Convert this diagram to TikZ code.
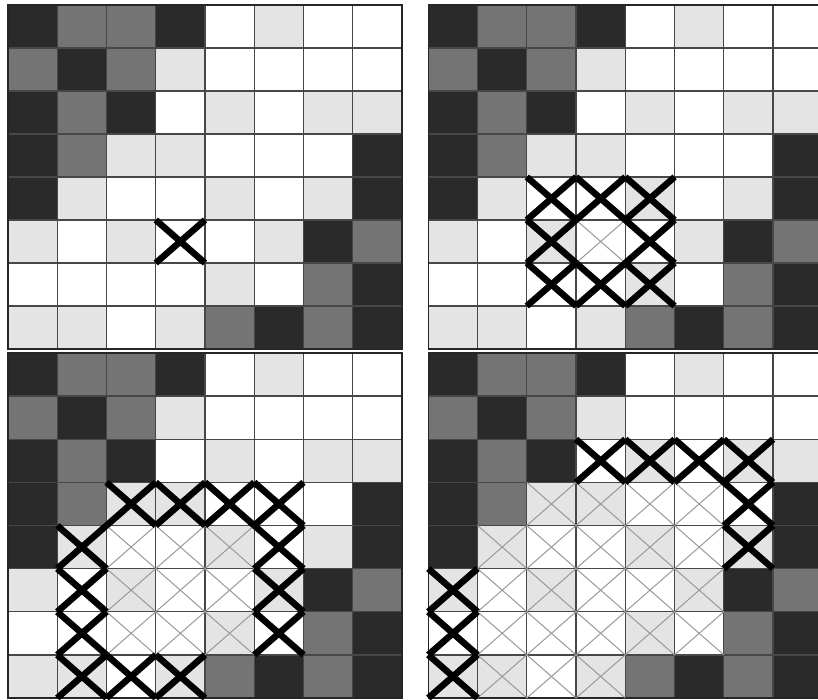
\documentclass[tikz,border=0pt]{standalone}
\definecolor{cD}{HTML}{2A2A2A}
\definecolor{cM}{HTML}{747474}
\definecolor{cL}{HTML}{E4E4E4}
\definecolor{cW}{HTML}{FFFFFF}
\tikzset{
  gridline/.style={draw=black!72, line width=1.3pt},
  frameline/.style={draw=black!85, line width=1.6pt},
  thinx/.style={draw=black!40, line width=1pt},
  thickx/.style={draw=black, line width=6.5pt, line cap=butt},
}
\def\cw{49.25}
\newcommand\basegrid{%
  \foreach \rowlist [count=\r from 0] in {%
    {D,M,M,D,W,L,W,W},%
    {M,D,M,L,W,W,W,W},%
    {D,M,D,W,L,W,L,L},%
    {D,M,L,L,W,W,W,D},%
    {D,L,W,W,L,W,L,D},%
    {L,W,L,W,W,L,D,M},%
    {W,W,W,W,L,W,M,D},%
    {L,L,W,L,M,D,M,D}}{%
    \foreach \cc [count=\k from 0] in \rowlist {%
      \fill[fill=c\cc] (\k*\cw,\r*\ch) rectangle ++(\cw,\ch);
    }
  }
  \foreach \i in {1,...,7} {%
    \draw[gridline] (\i*\cw,0) -- (\i*\cw,8*\ch);
    \draw[gridline] (0,\i*\ch) -- (8*\cw,\i*\ch);
  }
  \draw[frameline] (0,0) rectangle (8*\cw,8*\ch);
}
\newcommand\thincell[2]{%
  \draw[thinx] (#2*\cw,#1*\ch) -- ++(\cw,\ch);
  \draw[thinx] (#2*\cw+\cw,#1*\ch) -- ++(-\cw,\ch);
}
\newcommand\thickcell[2]{%
  \draw[thickx] (#2*\cw,#1*\ch) -- ++(\cw,\ch);
  \draw[thickx] (#2*\cw+\cw,#1*\ch) -- ++(-\cw,\ch);
}
\begin{document}
\begin{tikzpicture}[x=1pt,y=-1pt]
  \useasboundingbox (0,0) rectangle (818,700);
  \fill[white] (0,0) rectangle (818,700);
  \clip (0,0) rectangle (818,700);
  % panel 1
  \begin{scope}[shift={(8,5)}]
    \def\ch{43}
    \basegrid
    \thickcell{5}{3}
  \end{scope}
  % panel 2
  \begin{scope}[shift={(428.3,5)}]
    \def\ch{43}
    \basegrid
    \thincell{5}{3}
    \foreach \r/\k in {4/2,4/3,4/4,5/2,5/4,6/2,6/3,6/4} {\thickcell{\r}{\k}}
  \end{scope}
  % panel 3
  \begin{scope}[shift={(8,353)}]
    \def\ch{43.125}
    \basegrid
    \foreach \r/\k in {4/2,4/3,4/4,5/2,5/3,5/4,6/2,6/3,6/4} {\thincell{\r}{\k}}
    \foreach \r/\k in {3/2,3/3,3/4,3/5,4/1,4/5,5/1,5/5,6/1,6/5,7/1,7/2,7/3} {\thickcell{\r}{\k}}
  \end{scope}
  % panel 4
  \begin{scope}[shift={(428.3,353)}]
    \def\ch{43.125}
    \basegrid
    \foreach \r/\k in {3/2,3/3,3/4,3/5,4/1,4/2,4/3,4/4,4/5,5/1,5/2,5/3,5/4,5/5,6/1,6/2,6/3,6/4,6/5,7/1,7/2,7/3} {\thincell{\r}{\k}}
    \foreach \r/\k in {2/3,2/4,2/5,2/6,3/6,4/6,5/0,6/0,7/0} {\thickcell{\r}{\k}}
  \end{scope}
\end{tikzpicture}
\end{document}
